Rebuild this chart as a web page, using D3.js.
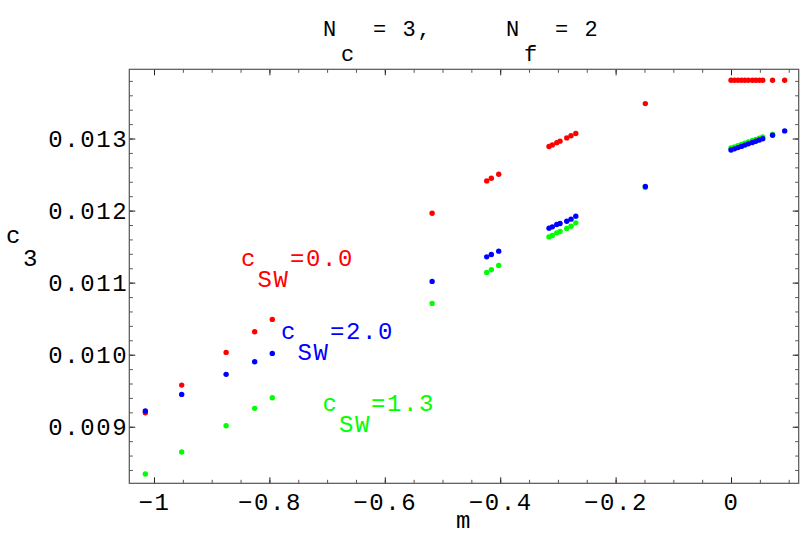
<!DOCTYPE html>
<html><head><meta charset="utf-8">
<script src="https://cdn.jsdelivr.net/npm/d3@7"></script>
<style>
body{margin:0;background:#fff;}
text{font-family:"Liberation Mono","DejaVu Sans Mono",monospace;}
</style></head>
<body><svg id="c" width="801" height="545"></svg>
<script>
// ---- data ----
const mRed   = [-1.015,-0.952,-0.875,-0.8255,-0.795,-0.518,-0.4234,-0.4154,-0.4026,
  -0.3154,-0.3097,-0.302,-0.2963,-0.2847,-0.2773,-0.269,-0.1485,
  0.000,0.006,0.012,0.018,0.024,0.030,0.037,0.043,0.049,0.055,0.072,0.093];
const c3Red  = [0.009194,0.009578,0.010032,0.010318,0.01049,0.011964,0.012412,0.012449,0.012505,
  0.01289,0.012912,0.012942,0.012964,0.013009,0.013038,0.01307,0.013485,
  0.01381,0.01381,0.01381,0.01381,0.01381,0.01381,0.01381,0.01381,0.01381,0.01381,0.01381,0.013808];
const mGreen = [-1.015,-0.952,-0.875,-0.8255,-0.795,-0.518,-0.4234,-0.4154,-0.4026,
  -0.3154,-0.3097,-0.302,-0.2963,-0.2847,-0.2773,-0.269,-0.1485,
  0.000,0.006,0.012,0.018,0.024,0.030,0.037,0.043,0.049,0.055,0.072];
const c3Green= [0.008344,0.008649,0.009014,0.009255,0.009402,0.010712,0.011141,0.011178,0.011239,
  0.011635,0.011655,0.011691,0.01171,0.011752,0.011784,0.01183,0.01232,
  0.012868,0.012885,0.012902,0.012919,0.012936,0.012953,0.012972,0.012989,0.013005,0.013022,0.013056];
const mBlue  = [-1.015,-0.952,-0.875,-0.8255,-0.795,-0.518,-0.4234,-0.4154,-0.4026,
  -0.3154,-0.3097,-0.302,-0.2963,-0.2847,-0.2773,-0.269,-0.1485,
  0.000,0.006,0.012,0.018,0.024,0.030,0.037,0.043,0.049,0.055,0.072,0.093];
const c3Blue = [0.009218,0.009449,0.009727,0.009902,0.010018,0.011017,0.011358,0.011391,0.011437,
  0.011756,0.011774,0.011807,0.011821,0.011853,0.011881,0.011922,0.012334,
  0.01284,0.012857,0.012874,0.012891,0.012909,0.012926,0.012946,0.012963,0.01298,0.012997,0.013046,0.013106];
const xMajor = [-1,-0.8,-0.6,-0.4,-0.2,0];
const yMajor = [0.009,0.010,0.011,0.012,0.013];
const xDomain = [-1.0428,0.1173];
const yDomain = [0.008215,0.013961];

// ---- layout ----
const L=129.3,R=798.7,T=69.3,B=483.3;
const svg=d3.select("#c");
const x=d3.scaleLinear().domain(xDomain).range([L,R]);
const y=d3.scaleLinear().domain(yDomain).range([B,T]);
const xMinor=d3.range(-1.0,0.1001,0.05).map(v=>+v.toFixed(2));
const yMinor=d3.range(0.0084,0.01390,0.0002).map(v=>+v.toFixed(4));
const frameCol="#555";

function axisG(axis,tr){
  const g=svg.append("g").attr("transform",tr).call(axis);
  g.select(".domain").remove();
  g.selectAll("line").attr("stroke",frameCol);
  return g;
}
// minor ticks
axisG(d3.axisBottom(x).tickValues(xMinor).tickSize(-3.5).tickFormat(""),`translate(0,${B})`);
axisG(d3.axisTop(x).tickValues(xMinor).tickSize(-3.5).tickFormat(""),`translate(0,${T})`);
axisG(d3.axisLeft(y).tickValues(yMinor).tickSize(-3.5).tickFormat(""),`translate(${L},0)`);
axisG(d3.axisRight(y).tickValues(yMinor).tickSize(-3.5).tickFormat(""),`translate(${R},0)`);
// major ticks
const gx=axisG(d3.axisBottom(x).tickValues(xMajor).tickSize(-6).tickFormat(d3.format("~g")),`translate(0,${B})`);
gx.selectAll("line").attr("stroke","#222");
gx.selectAll("text").attr("font-size",24).attr("letter-spacing",1.6).attr("fill","#000")
  .attr("font-family","Liberation Mono, monospace").attr("dy","0.71em").attr("y",10);
axisG(d3.axisTop(x).tickValues(xMajor).tickSize(-6).tickFormat(""),`translate(0,${T})`).selectAll("line").attr("stroke","#222");
const gy=axisG(d3.axisLeft(y).tickValues(yMajor).tickSize(-6).tickFormat(d3.format(".3f")),`translate(${L},0)`);
gy.selectAll("line").attr("stroke","#222");
gy.selectAll("text").attr("font-size",24).attr("letter-spacing",1.6).attr("fill","#000")
  .attr("font-family","Liberation Mono, monospace").attr("x",-1).attr("dy","0.32em");
axisG(d3.axisRight(y).tickValues(yMajor).tickSize(-6).tickFormat(""),`translate(${R},0)`).selectAll("line").attr("stroke","#222");
// frame
svg.append("rect").attr("x",L).attr("y",T).attr("width",R-L).attr("height",B-T)
  .attr("fill","none").attr("stroke",frameCol).attr("stroke-width",1.2);

// ---- points ----
const series=[
  {m:mRed,v:c3Red,col:"#ff0000"},
  {m:mGreen,v:c3Green,col:"#00ff00"},
  {m:mBlue,v:c3Blue,col:"#0000ff"}];
series.forEach(s=>{
  svg.append("g").selectAll("circle").data(s.m.map((m,i)=>[m,s.v[i]])).join("circle")
    .attr("cx",d=>x(d[0])).attr("cy",d=>y(d[1])).attr("r",2.7).attr("fill",s.col);
});

// ---- texts ----
function txt(str,xx,yy,col,fs){
  svg.append("text").attr("x",xx).attr("y",yy).attr("fill",col||"#000")
    .attr("font-size",fs||24).attr("letter-spacing",1.6).text(str);
}
// title
txt("N",323,36,"#000",22); txt("c",341,61,"#000",22); txt("= 3,",373,36,"#000",22);
txt("N",506,36,"#000",22); txt("f",524,61,"#000",22); txt("= 2",555,36,"#000",22);
// axis labels
txt("m",456,528);
txt("c",6,243); txt("3",23,266);
// legend labels
txt("c",241,266,"#ff0000"); txt("SW",257.5,287.3,"#ff0000"); txt("=0.0",290,266,"#ff0000");
txt("c",281,339,"#0000ff"); txt("SW",297.5,360,"#0000ff"); txt("=2.0",330,339,"#0000ff");
txt("c",322.5,410.7,"#00ff00"); txt("SW",339,432,"#00ff00"); txt("=1.3",371,410.7,"#00ff00");
</script></body></html>
